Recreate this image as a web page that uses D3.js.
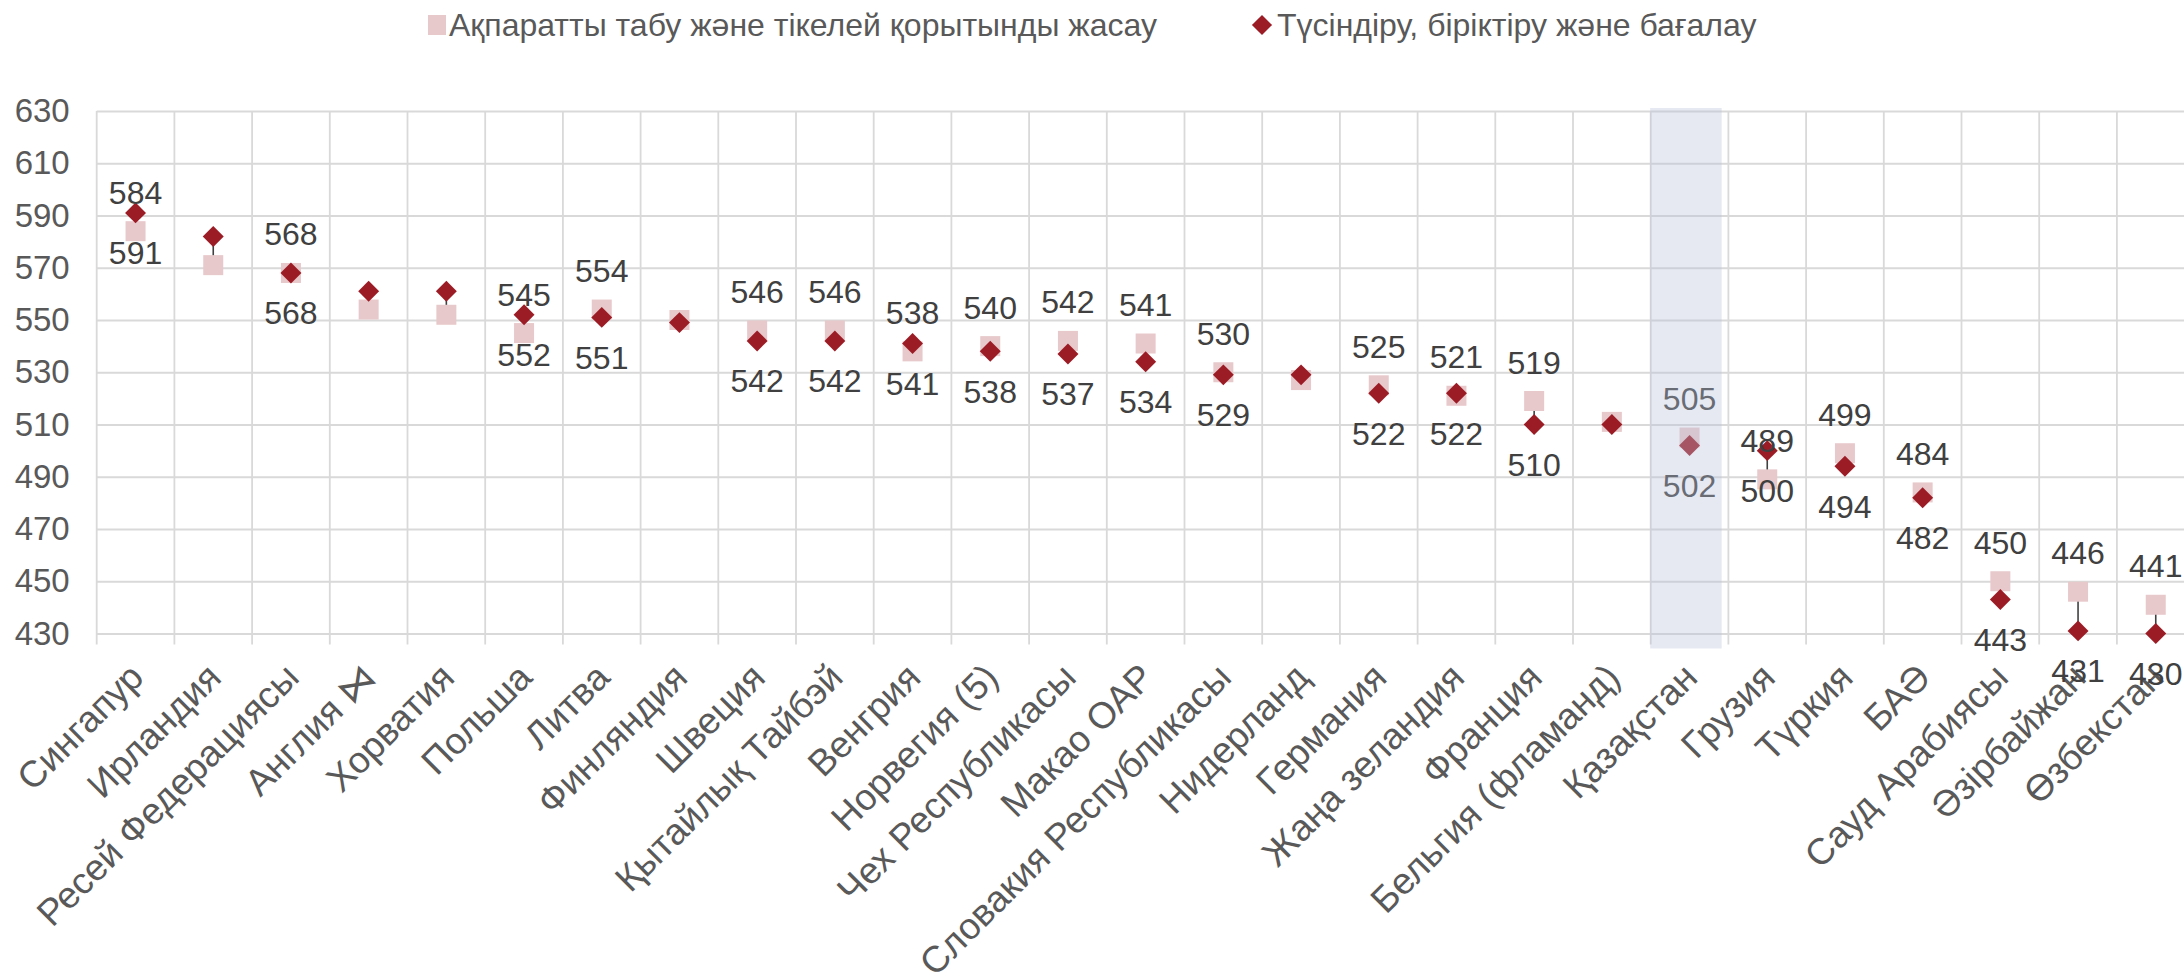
<!DOCTYPE html>
<html>
<head>
<meta charset="utf-8">
<script src="https://cdn.jsdelivr.net/npm/d3@7/dist/d3.min.js"></script>
<style>
  body { margin: 0; background: #fff; overflow: hidden; }
  svg { display: block; font-family: "Liberation Sans", Arial, sans-serif; }
</style>
</head>
<body>
<svg class="graph"></svg>
<script>
//======
// Data
//======

var countries = ["Сингапур", "Ирландия", "Ресей Федерациясы", "Англия ⋈", "Хорватия", "Польша", "Литва",
  "Финляндия", "Швеция", "Қытайлық Тайбэй", "Венгрия", "Норвегия (5)", "Чех Республикасы", "Макао ОАР",
  "Словакия Республикасы", "Нидерланд", "Германия", "Жаңа зеландия", "Франция", "Бельгия (фламанд)",
  "Қазақстан", "Грузия", "Түркия", "БАӘ", "Сауд Арабиясы", "Әзірбайжан", "Өзбекстан"];

// squares
var findScores = [584, 571, 568, 554, 552, 545, 554, 550, 546, 546, 538, 540, 542, 541,
  530, 527, 525, 521, 519, 511, 505, 489, 499, 484, 450, 446, 441];

// diamonds
var interpretScores = [591, 582, 568, 561, 561, 552, 551, 549, 542, 542, 541, 538, 537, 534,
  529, 529, 522, 522, 510, 510, 502, 500, 494, 482, 443, 431, 430];

// which countries get value labels
var hasLabels = [1, 0, 1, 0, 0, 1, 1, 0, 1, 1, 1, 1, 1, 1, 1, 0, 1, 1, 1, 0, 1, 1, 1, 1, 1, 1, 1];

var yTicks = [430, 450, 470, 490, 510, 530, 550, 570, 590, 610, 630];
var legendNames = ["Ақпаратты табу және тікелей қорытынды жасау", "Түсіндіру, біріктіру және бағалау"];
var highlighted = "Қазақстан";

var squareColor = "#e8c9cb";
var diamondColor = "#9c1c26";

//=======
// Chart
//=======

var width = 2184, height = 977;
var plotLeft = 96.7, plotRight = 2194.6, plotTop = 111, plotBottom = 633.5;

var svg = d3.select(".graph").attr("width", width).attr("height", height);

var rows = countries.map(function (c, i) {
  return {name: c, find: findScores[i], interp: interpretScores[i], label: hasLabels[i] === 1};
});

var x = d3.scaleBand().domain(countries).range([plotLeft, plotRight]).padding(0);
var y = d3.scaleLinear().domain([430, 630]).range([plotBottom, plotTop]);
var bw = x.bandwidth();

main();

function main() {
  drawGrid();
  drawMarks();
  drawLabels();
  drawLegend();
  drawHighlight();
}

function drawGrid() {
  var yAxis = d3.axisLeft(y)
    .tickValues(yTicks)
    .tickSize(-(plotRight - plotLeft))
    .tickPadding(27);

  var gy = svg.append("g")
    .attr("class", "y-axis")
    .attr("transform", "translate(" + plotLeft + ",0)")
    .call(yAxis);
  gy.select(".domain").remove();
  gy.selectAll(".tick line").attr("stroke", "#d9d9d9").attr("stroke-width", 1.8);
  gy.selectAll(".tick text")
    .attr("fill", "#595959")
    .attr("font-size", 33)
    .attr("font-family", "Liberation Sans, Arial, sans-serif");

  // vertical lines on category boundaries, poking below the axis like ticks
  var edges = countries.map(function (c) { return x(c); }).concat([plotRight]);
  svg.append("g")
    .attr("class", "x-grid")
    .selectAll("line")
    .data(edges)
    .enter().append("line")
    .attr("x1", function (d) { return d; })
    .attr("x2", function (d) { return d; })
    .attr("y1", plotTop)
    .attr("y2", plotBottom + 11)
    .attr("stroke", "#d9d9d9")
    .attr("stroke-width", 1.8);

  svg.append("g")
    .attr("class", "x-labels")
    .selectAll("text")
    .data(countries)
    .enter().append("text")
    .attr("transform", function (d) {
      return "translate(" + (x(d) + bw / 2 + 10) + "," + (plotBottom + 46) + ") rotate(-45)";
    })
    .attr("text-anchor", "end")
    .attr("fill", "#595959")
    .attr("font-size", 37)
    .text(function (d) { return d; });
}

function drawMarks() {
  var cx = function (d) { return x(d.name) + bw / 2; };

  // hi-lo connector
  svg.append("g")
    .selectAll("line")
    .data(rows)
    .enter().append("line")
    .attr("x1", cx).attr("x2", cx)
    .attr("y1", function (d) { return y(d.find); })
    .attr("y2", function (d) { return y(d.interp); })
    .attr("stroke", "#404040")
    .attr("stroke-width", 1.6);

  svg.append("g")
    .selectAll("rect")
    .data(rows)
    .enter().append("rect")
    .attr("x", function (d) { return cx(d) - 10; })
    .attr("y", function (d) { return y(d.find) - 10; })
    .attr("width", 20)
    .attr("height", 20)
    .attr("fill", squareColor);

  var diamond = d3.symbol().type(d3.symbolDiamond2).size(280);
  svg.append("g")
    .selectAll("path")
    .data(rows)
    .enter().append("path")
    .attr("d", diamond)
    .attr("transform", function (d) { return "translate(" + cx(d) + "," + y(d.interp) + ")"; })
    .attr("fill", diamondColor);
}

function drawLabels() {
  var labelled = rows.filter(function (d) { return d.label; });
  var g = svg.append("g").attr("class", "value-labels")
    .attr("font-size", 32)
    .attr("fill", "#404040")
    .attr("text-anchor", "middle");

  g.selectAll("text.find")
    .data(labelled)
    .enter().append("text")
    .attr("class", "find")
    .attr("x", function (d) { return x(d.name) + bw / 2; })
    .attr("y", function (d) { return y(d.find) - 39; })
    .attr("dy", "0.36em")
    .text(function (d) { return d.find; });

  g.selectAll("text.interp")
    .data(labelled)
    .enter().append("text")
    .attr("class", "interp")
    .attr("x", function (d) { return x(d.name) + bw / 2; })
    .attr("y", function (d) { return y(d.interp) + 40; })
    .attr("dy", "0.36em")
    .text(function (d) { return d.interp; });
}

function drawLegend() {
  var g = svg.append("g").attr("class", "legend")
    .attr("font-size", 32)
    .attr("fill", "#595959");

  g.append("rect")
    .attr("x", 428).attr("y", 15)
    .attr("width", 18).attr("height", 20)
    .attr("fill", squareColor);
  g.append("text")
    .attr("x", 449).attr("y", 25).attr("dy", "0.35em")
    .text(legendNames[0]);

  g.append("path")
    .attr("d", d3.symbol().type(d3.symbolDiamond2).size(260)())
    .attr("transform", "translate(1262,25)")
    .attr("fill", diamondColor);
  g.append("text")
    .attr("x", 1277).attr("y", 25).attr("dy", "0.35em")
    .text(legendNames[1]);
}

function drawHighlight() {
  svg.append("rect")
    .attr("class", "highlight")
    .attr("x", x(highlighted) - 0.5)
    .attr("y", plotTop - 3)
    .attr("width", bw * 0.92)
    .attr("height", plotBottom + 15 - (plotTop - 3))
    .attr("fill", "rgb(184,192,218)")
    .attr("fill-opacity", 0.35);
}
</script>
</body>
</html>
